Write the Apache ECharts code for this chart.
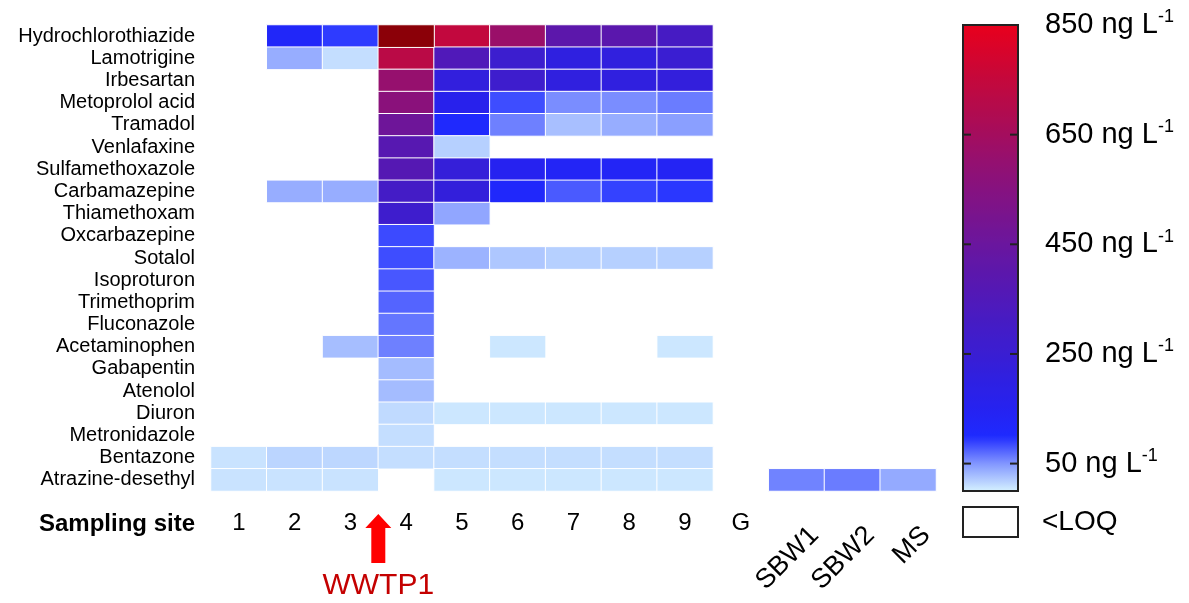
<!DOCTYPE html>
<html><head><meta charset="utf-8">
<script src="https://cdn.jsdelivr.net/npm/echarts@6/dist/echarts.min.js"></script>
<style>html,body{margin:0;padding:0;background:#fff}#c{width:1189px;height:603px}</style>
</head><body><div id="c"></div>
<script>
// ---- data ----
const sites = ['1','2','3','4','5','6','7','8','9','G','SBW1','SBW2','MS'];
const rotatedSites = ['SBW1','SBW2','MS'];
const compounds = ['Hydrochlorothiazide','Lamotrigine','Irbesartan','Metoprolol acid','Tramadol','Venlafaxine',
  'Sulfamethoxazole','Carbamazepine','Thiamethoxam','Oxcarbazepine','Sotalol','Isoproturon','Trimethoprim',
  'Fluconazole','Acetaminophen','Gabapentin','Atenolol','Diuron','Metronidazole','Bentazone','Atrazine-desethyl'];
// ng/L per site (null = <LOQ)
const hydrochlorothiazide = [null,120,92,1100,745,620,400,392,310,null,null,null,null];
const lamotrigine        = [null,37,10,720,350,262,205,212,250,null,null,null,null];
const irbesartan         = [null,null,null,605,215,270,210,210,220,null,null,null,null];
const metoprololAcid     = [null,null,null,565,165,84,54,54,62,null,null,null,null];
const tramadol           = [null,null,null,465,108,60,27,37,45,null,null,null,null];
const venlafaxine        = [null,null,null,380,18,null,null,null,null,null,null,null,null];
const sulfamethoxazole   = [null,null,null,372,228,150,130,130,138,null,null,null,null];
const carbamazepine      = [null,37,37,300,222,112,78,89,94,null,null,null,null];
const thiamethoxam       = [null,null,null,270,41,null,null,null,null,null,null,null,null];
const oxcarbazepine      = [null,null,null,85,null,null,null,null,null,null,null,null,null];
const sotalol            = [null,null,null,84,34,23,18,18,18,null,null,null,null];
const isoproturon        = [null,null,null,79,null,null,null,null,null,null,null,null,null];
const trimethoprim       = [null,null,null,73,null,null,null,null,null,null,null,null,null];
const fluconazole        = [null,null,null,65,null,null,null,null,null,null,null,null,null];
const acetaminophen      = [null,null,28,60,null,5,null,null,5,null,null,null,null];
const gabapentin         = [null,null,null,29,null,null,null,null,null,null,null,null,null];
const atenolol           = [null,null,null,29,null,null,null,null,null,null,null,null,null];
const diuron             = [null,null,null,12,5,5,5,5,5,null,null,null,null];
const metronidazole      = [null,null,null,10,null,null,null,null,null,null,null,null,null];
const bentazone          = [7,15,14,10,10,10,10,10,10,null,null,null,null];
const atrazineDesethyl   = [7,7,7,null,5,5,5,5,5,null,59,62,39];
const rows = [hydrochlorothiazide,lamotrigine,irbesartan,metoprololAcid,tramadol,venlafaxine,sulfamethoxazole,
  carbamazepine,thiamethoxam,oxcarbazepine,sotalol,isoproturon,trimethoprim,fluconazole,acetaminophen,
  gabapentin,atenolol,diuron,metronidazole,bentazone,atrazineDesethyl];
const scaleMin = 0, scaleMax = 850;
const colorTicks = [50,250,450,650,850];
const palette = ['#d4f0ff','#8296ff','#1e2aff','#2622f0','#2e20e2','#3a1ed2','#441cc6','#5019b9','#5c17ab',
  '#6a169e','#78148e','#861280','#941070','#a40d5e','#b40b4c','#c4083c','#d6042c','#e8001c'];
const aboveColor = '#8b0008';

// ---- build ----
const mainData = [], aboveData = [];
rows.forEach((r, yi) => r.forEach((v, xi) => {
  if (v == null) return;
  (v > scaleMax ? aboveData : mainData).push([xi, yi, v]);
}));

const chart = echarts.init(document.getElementById('c'), null, {renderer: 'canvas'});
const FONT = '"Liberation Sans", Arial, sans-serif';
const cbAxisCommon = {
  type: 'value', gridIndex: 1, min: scaleMin, max: scaleMax,
  axisLine: {show: false}, axisTick: {show: false}, splitLine: {show: false}, axisLabel: {show: false}
};
const option = {
  animation: false,
  textStyle: {fontFamily: FONT, color: '#000'},
  grid: [
    {left: 211, top: 25, width: 725, height: 466},
    {left: 963, top: 25, width: 55, height: 466}
  ],
  xAxis: [
    {type: 'category', gridIndex: 0, data: sites, position: 'bottom',
     axisLine: {show: false}, axisTick: {show: false}, splitLine: {show: false},
     axisLabel: {interval: 0, fontSize: 24, color: '#000', margin: 20,
       formatter: v => rotatedSites.includes(v) ? '' : v}},
    {type: 'category', gridIndex: 0, data: sites, position: 'bottom',
     axisLine: {show: false}, axisTick: {show: false}, splitLine: {show: false},
     axisLabel: {interval: 0, fontSize: 27, color: '#000', rotate: 45, margin: 22,
       align: 'right', verticalAlign: 'top', padding: [12, 0, 0, 0],
       formatter: v => rotatedSites.includes(v) ? v : ''}},
    Object.assign({}, cbAxisCommon, {position: 'bottom'})
  ],
  yAxis: [
    {type: 'category', gridIndex: 0, data: compounds, inverse: true,
     axisLine: {show: false}, axisTick: {show: false}, splitLine: {show: false},
     axisLabel: {interval: 0, fontSize: 20, color: '#000', margin: 16}},
    Object.assign({}, cbAxisCommon, {position: 'right',
      axisLabel: {show: true, customValues: colorTicks, margin: 27, color: '#000',
        formatter: v => '{a|' + v + ' ng L}{b|-1}',
        rich: {a: {fontSize: 29, fontFamily: FONT, color: '#000'},
               b: {fontSize: 18, fontFamily: FONT, color: '#000', padding: [0, 0, 15, 0]}}}})
  ],
  visualMap: [{
    type: 'continuous', seriesIndex: 0, min: scaleMin, max: scaleMax,
    left: 963, top: 25, itemWidth: 55, itemHeight: 466, padding: 0,
    calculable: false, hoverLink: false, text: null, showLabel: false,
    inRange: {color: palette}
  }],
  series: [
    {type: 'heatmap', xAxisIndex: 0, yAxisIndex: 0, data: mainData,
     itemStyle: {borderColor: '#ffffff', borderWidth: 1}, emphasis: {disabled: true}},
    {type: 'heatmap', xAxisIndex: 0, yAxisIndex: 0, data: aboveData,
     itemStyle: {color: aboveColor, borderColor: '#ffffff', borderWidth: 1}, emphasis: {disabled: true}}
  ]
};
chart.setOption(option);

// annotations placed from axis positions
const p3 = chart.convertToPixel({xAxisIndex: 0, yAxisIndex: 0}, ['3', compounds[0]]);
const p4 = chart.convertToPixel({xAxisIndex: 0, yAxisIndex: 0}, ['4', compounds[0]]);
const ax = (p3[0] + p4[0]) / 2;
// colour bar frame and ticks from its axis
const cbL = chart.convertToPixel({xAxisIndex: 2}, scaleMin);
const cbR = chart.convertToPixel({xAxisIndex: 2}, scaleMax);
const cbB = chart.convertToPixel({yAxisIndex: 1}, scaleMin);
const cbT = chart.convertToPixel({yAxisIndex: 1}, scaleMax);
const tickLen = 8;
const frame = [{type: 'rect', z: 100, shape: {x: cbL, y: cbT, width: cbR - cbL, height: cbB - cbT},
  style: {fill: 'none', stroke: '#222', lineWidth: 2}}];
colorTicks.forEach(v => {
  if (v === scaleMax) return;
  const y = chart.convertToPixel({yAxisIndex: 1}, v);
  frame.push({type: 'line', z: 100, shape: {x1: cbL, y1: y, x2: cbL + tickLen, y2: y}, style: {stroke: '#222', lineWidth: 2}});
  frame.push({type: 'line', z: 100, shape: {x1: cbR - tickLen, y1: y, x2: cbR, y2: y}, style: {stroke: '#222', lineWidth: 2}});
});
chart.setOption({
  graphic: frame.concat([
    {type: 'text', x: 195, y: 524, style: {text: 'Sampling site', fontFamily: FONT, fontWeight: 'bold',
      fontSize: 24, fill: '#000', align: 'right', verticalAlign: 'middle'}},
    {type: 'polygon', shape: {points: [[ax, 514], [ax + 13, 528], [ax + 7, 528], [ax + 7, 563], [ax - 7, 563], [ax - 7, 528], [ax - 13, 528]]},
     style: {fill: '#ff0000'}},
    {type: 'text', x: ax, y: 586, style: {text: 'WWTP1', fontFamily: FONT, fontSize: 30, fill: '#c40000',
      align: 'center', verticalAlign: 'middle'}},
    {type: 'rect', shape: {x: cbL, y: 507, width: cbR - cbL, height: 30}, style: {fill: '#fff', stroke: '#222', lineWidth: 2}},
    {type: 'text', x: 1042, y: 522, style: {text: '<LOQ', fontFamily: FONT, fontSize: 28, fill: '#000',
      align: 'left', verticalAlign: 'middle'}}
  ])
});
</script></body></html>
